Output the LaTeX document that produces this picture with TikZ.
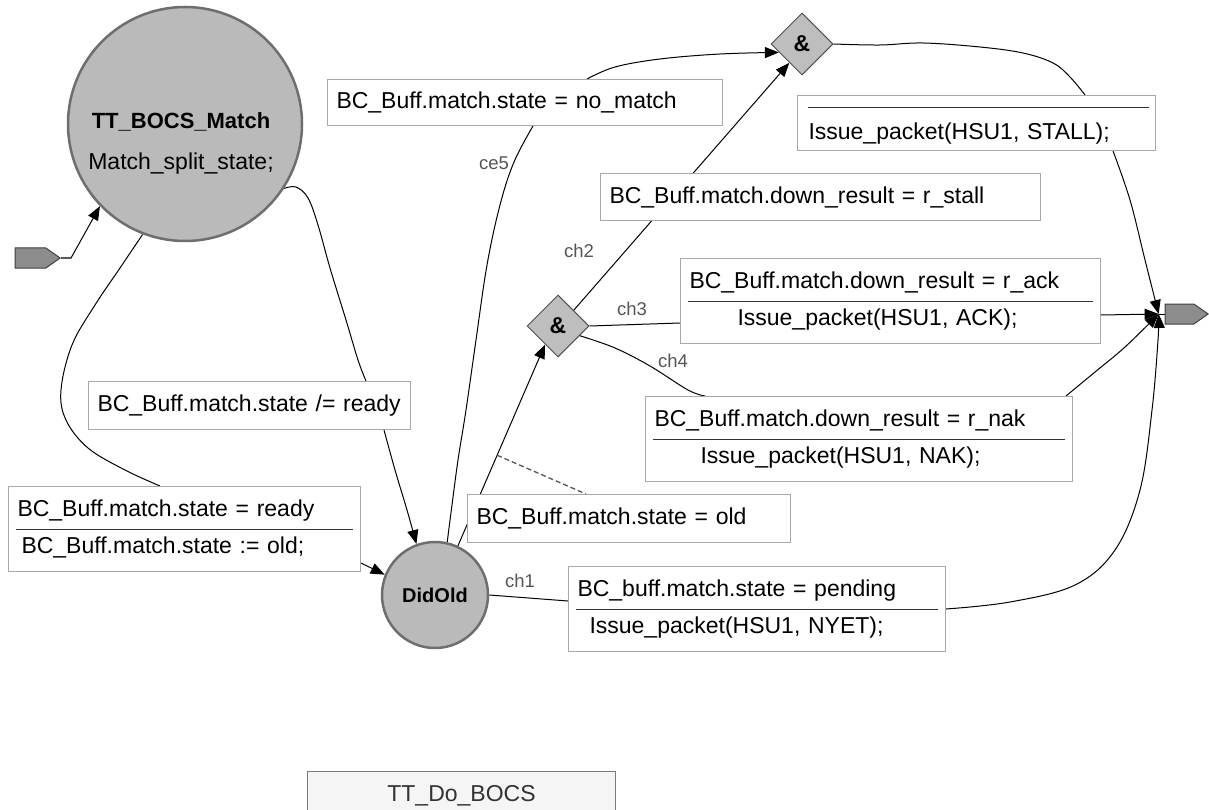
\documentclass[tikz,border=0pt]{standalone}
\usepackage{fontspec}
\setmainfont{Liberation Sans}
\usepackage{tikz}
\usetikzlibrary{arrows.meta, calc, positioning, shapes.geometric, shapes.symbols, backgrounds}
\usepackage{xcolor}
\definecolor{sFill}{HTML}{BABABA}
\definecolor{sLine}{HTML}{6E6E6E}
\definecolor{jFill}{HTML}{BEBEBE}
\definecolor{jLine}{HTML}{505050}
\definecolor{pFill}{HTML}{8C8C8C}
\definecolor{pLine}{HTML}{404040}
\definecolor{gLine}{HTML}{A8A8A8}
\definecolor{tGrey}{HTML}{555555}
\definecolor{mFill}{HTML}{F5F5F5}
\definecolor{mLine}{HTML}{7A7A7A}
\definecolor{mText}{HTML}{333333}
\newcommand{\diagfont}{\fontsize{23}{28}\selectfont}
\newcommand{\titlefont}{\fontsize{22}{26}\selectfont\bfseries}
\newcommand{\tagfont}{\fontsize{18.5}{22}\selectfont}

\begin{document}
\begin{tikzpicture}[x=1pt, y=-1pt, >={Triangle[length=14pt, width=11pt]}, font=\diagfont,
  state/.style={circle, draw=sLine, line width=2.5pt, fill=sFill, inner sep=0pt},
  joint/.style={diamond, draw=jLine, line width=1pt, fill=jFill, minimum size=62pt,
                inner sep=0pt, font=\diagfont\bfseries},
  port/.style={signal, signal to=east, signal pointer angle=70, draw=pLine, fill=pFill,
               line width=1pt, minimum height=20pt, inner sep=0pt},
  guard/.style={draw=gLine, line width=1pt, fill=white, inner xsep=9pt, inner ysep=0pt,
                align=left, anchor=north west},
  tag/.style={text=tGrey, font=\tagfont},
  link/.style={line width=1pt},
  sep/.style={line width=1pt, black!80}]
  \useasboundingbox (0,0) rectangle (1209,810);
  % states
  \node[state, minimum size=234pt] (match) at (185,124) {};
  \node[font=\titlefont] (matchname) at (181,122) {TT\_BOCS\_Match};
  \node (matchact) at (181,164) {Match\_split\_state;};
  \node[state, minimum size=106pt, font=\fontsize{20}{24}\selectfont\bfseries] (didold) at (435,595) {DidOld};
  % joins and ports
  \node[joint] (topand) at (802,44) {\&};
  \node[joint] (midand) at (558,326) {\&};
  \node[port, minimum width=45pt] (entry) at (30.5,258) {};
  \node[port, minimum width=43pt] (exit) at (1179.5,314) {};
  \coordinate (exitpt) at ([xshift=-6pt]exit.west);
  % guards and actions
  \node[guard, text width=377pt, minimum height=46pt] (nomatch) at (327,79) {BC\_Buff.match.state = no\_match};
  \node[guard, text width=340pt, minimum height=55pt] (stall) at (797,95) {\rule{0pt}{38pt}\hspace*{2pt}Issue\_packet(HSU1, STALL);};
  \node[guard, text width=422pt, minimum height=47pt] (rstall) at (600,173) {BC\_Buff.match.down\_result = r\_stall};
  \node[guard, text width=402pt, minimum height=85pt] (ack) at (680,258)
    {BC\_Buff.match.down\_result = r\_ack\\[9pt]\hspace*{48pt}Issue\_packet(HSU1, ACK);};
  \node[guard, text width=409pt, minimum height=85pt] (nak) at (645,396)
    {BC\_Buff.match.down\_result = r\_nak\\[9pt]\hspace*{46pt}Issue\_packet(HSU1, NAK);};
  \node[guard, text width=304pt, minimum height=48pt] (notready) at (88,381) {BC\_Buff.match.state /= ready};
  \node[guard, text width=334pt, minimum height=85pt] (ready) at (8,486)
    {BC\_Buff.match.state = ready\\[9pt]\hspace*{4pt}BC\_Buff.match.state := old;};
  \node[guard, text width=305pt, minimum height=48pt] (old) at (467,494) {BC\_Buff.match.state = old};
  \node[guard, text width=359pt, minimum height=85pt] (pending) at (568,566)
    {BC\_buff.match.state = pending\\[9pt]\hspace*{12pt}Issue\_packet(HSU1, NYET);};
  \draw[sep] ([xshift=11pt, yshift=-13pt]stall.north west) -- ([xshift=-7pt, yshift=-13pt]stall.north east);
  \foreach \g in {ack, nak, ready, pending}
    \draw[sep] ([xshift=8pt]\g.west) -- ([xshift=-8pt]\g.east);
  \node[draw=mLine, line width=1pt, fill=mFill, text=mText, minimum width=308pt, minimum height=48pt,
        inner sep=0pt, anchor=north west] (module) at (307,771) {TT\_Do\_BOCS};
  % channel tags
  \node[tag] (ce5) at (494,163) {ce5};
  \node[tag] (ch2) at (579,251) {ch2};
  \node[tag] (ch3) at (632,309) {ch3};
  \node[tag] (ch4) at (673,361) {ch4};
  \node[tag] (ch1) at (520,581) {ch1};
  % transitions
  \begin{scope}[on background layer]
    \draw[link, ->] (entry.east) -- ++(10,0) -- (match.224);
    \draw[link] plot[smooth, tension=0.6] coordinates {(match.249) (120,268) (95,305) (72,345) (61,390)
      (66,420) (88,448) (125,470) ([xshift=152pt]ready.north west)};
    \draw[link, ->] ([yshift=-34pt]ready.east) -- (didold.158);
    \draw[link] plot[smooth, tension=0.6] coordinates {(match.327) (296,187) (308,198) (318,225) (330,268)
      (346,320) (358,360) ([xshift=-45pt]notready.north east)};
    \draw[link, ->] plot[smooth, tension=0.6] coordinates {([xshift=-27pt]notready.south east) (395,470)
      (407,510) (didold.110)};
    \draw[link] plot[smooth, tension=0.6] coordinates {(didold.77) (452,505) (458,460) (466,410) (476,340)
      (487,265) (500,205) (514,162) ([xshift=206pt]nomatch.south west)};
    \draw[link, ->] plot[smooth, tension=0.6] coordinates {([xshift=260pt]nomatch.north west) (615,67)
      (660,59) (720,54) (topand.200)};
    \draw[link, ->] (didold.65) -- (midand.235);
    \coordinate (oldpin) at ($(didold.65)!0.45!(midand.235)$);
    \draw[line width=1.3pt, tGrey, dash pattern=on 5pt off 3pt] (oldpin) -- ([xshift=119pt]old.north west);
    \draw[link, ->] (midand.45) -- (topand.236);
    \draw[link] (midand.east) -- ([yshift=-22pt]ack.west);
    \draw[link, ->] ([yshift=-14pt]ack.east) -- (exitpt);
    \draw[link] plot[smooth, tension=0.6] coordinates {(midand.336) (615,348) (650,366) (688,390)
      ([xshift=60pt]nak.north west)};
    \draw[link, ->] plot[smooth, tension=0.6] coordinates {([xshift=-7pt]nak.north east) (1095,372)
      (1125,347) (exitpt)};
    \draw[link] (didold.east) -- ([yshift=8pt]pending.west);
    \draw[link, ->] plot[smooth, tension=0.6] coordinates {(pending.east) (1010,602) (1075,585) (1115,550)
      (1140,490) (1152,410) (1158,340) (exitpt)};
    \draw[link] plot[smooth, tension=0.6] coordinates {(topand.east) (880,45) (923,43) (980,47)
      (1023,53) (1053,63) (1070,77) ([xshift=288pt]stall.north west)};
    \draw[link, ->] plot[smooth, tension=0.6] coordinates {([xshift=316pt]stall.south west) (1130,200)
      (1145,260) (exitpt)};
    \draw[link] (exitpt) -- (exit.west);
  \end{scope}
\end{tikzpicture}
\end{document}
